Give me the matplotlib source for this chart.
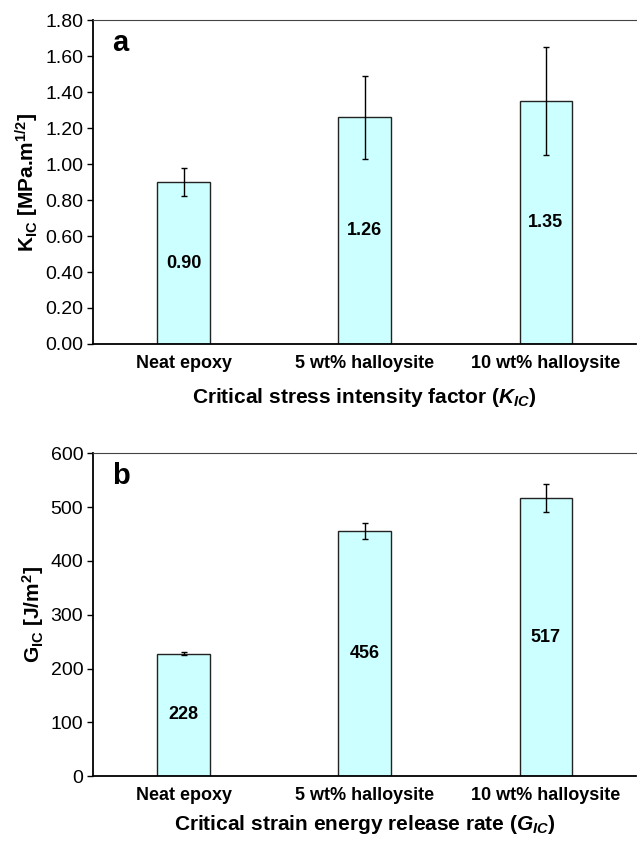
import numpy as np
import matplotlib
matplotlib.use("Agg")
import matplotlib.pyplot as plt

plt.rcParams["font.family"] = ["Liberation Sans", "DejaVu Sans"]
plt.rcParams["mathtext.fontset"] = "custom"
plt.rcParams["mathtext.rm"] = "Liberation Sans:bold"
plt.rcParams["mathtext.it"] = "Liberation Sans:bold:italic"
plt.rcParams["mathtext.bf"] = "Liberation Sans:bold"

# ---------------------------------------------------------------------------
# Data
# ---------------------------------------------------------------------------
categories = ["Neat epoxy", "5 wt% halloysite", "10 wt% halloysite"]

kic_values = [0.90, 1.26, 1.35]
kic_errors = [0.08, 0.23, 0.30]
kic_labels = ["0.90", "1.26", "1.35"]
kic_ticks = [0.0, 0.2, 0.4, 0.6, 0.8, 1.0, 1.2, 1.4, 1.6, 1.8]

gic_values = [228, 456, 517]
gic_errors = [2, 15, 26]
gic_labels = ["228", "456", "517"]
gic_ticks = [0, 100, 200, 300, 400, 500, 600]

BAR_COLOR = "#ccffff"


def draw_panel(ax, values, errors, labels, ticks, tick_fmt, ylabel, xlabel, letter, xpad):
    x = np.arange(len(categories))
    ax.bar(x, values, width=0.29, color=BAR_COLOR, edgecolor="#222222", linewidth=1.0, zorder=2)
    ax.errorbar(x, values, yerr=errors, fmt="none", ecolor="black",
                elinewidth=1.0, capsize=2.5, capthick=1.0, zorder=3)
    # value written half way up the bar
    for xi, v, lab in zip(x, values, labels):
        ax.text(xi, v / 2, lab, ha="center", va="center", fontsize=13, fontweight="bold")

    ax.set_xlim(-0.5, 2.5)
    ax.set_ylim(ticks[0], ticks[-1])
    ax.set_yticks(ticks)
    ax.set_yticklabels([tick_fmt.format(t) for t in ticks], fontsize=14)
    ax.set_xticks(x)
    ax.set_xticklabels(categories, fontsize=13, fontweight="bold")
    ax.tick_params(axis="x", length=0, pad=8)
    ax.tick_params(axis="y", direction="out", length=4, width=1.0, pad=3)

    ax.spines["right"].set_visible(False)
    ax.spines["top"].set_color("#444444")
    ax.spines["left"].set_linewidth(1.3)
    ax.spines["bottom"].set_linewidth(1.3)

    ax.set_ylabel(ylabel, fontsize=15, fontweight="bold", labelpad=3)
    ax.set_xlabel(xlabel, fontsize=15, fontweight="bold", labelpad=xpad)
    ax.text(0.035, 0.93, letter, transform=ax.transAxes, fontsize=21,
            fontweight="bold", va="center", ha="left")


fig = plt.figure(figsize=(6.37, 8.41), dpi=100)
ax_a = fig.add_axes([0.146, 0.591, 0.853, 0.385])
ax_b = fig.add_axes([0.146, 0.077, 0.853, 0.384])

draw_panel(ax_a, kic_values, kic_errors, kic_labels, kic_ticks, "{:.2f}",
           r"K$_{\mathrm{IC}}$ [MPa.m$^{\mathrm{1/2}}$]",
           r"Critical stress intensity factor $\mathit{(K_{IC})}$", "a", 10)
draw_panel(ax_b, gic_values, gic_errors, gic_labels, gic_ticks, "{:.0f}",
           r"G$_{\mathrm{IC}}$ [J/m$^{\mathrm{2}}$]",
           r"Critical strain energy release rate $\mathit{(G_{IC})}$", "b", 6)

fig.savefig("out.png", dpi=100)
